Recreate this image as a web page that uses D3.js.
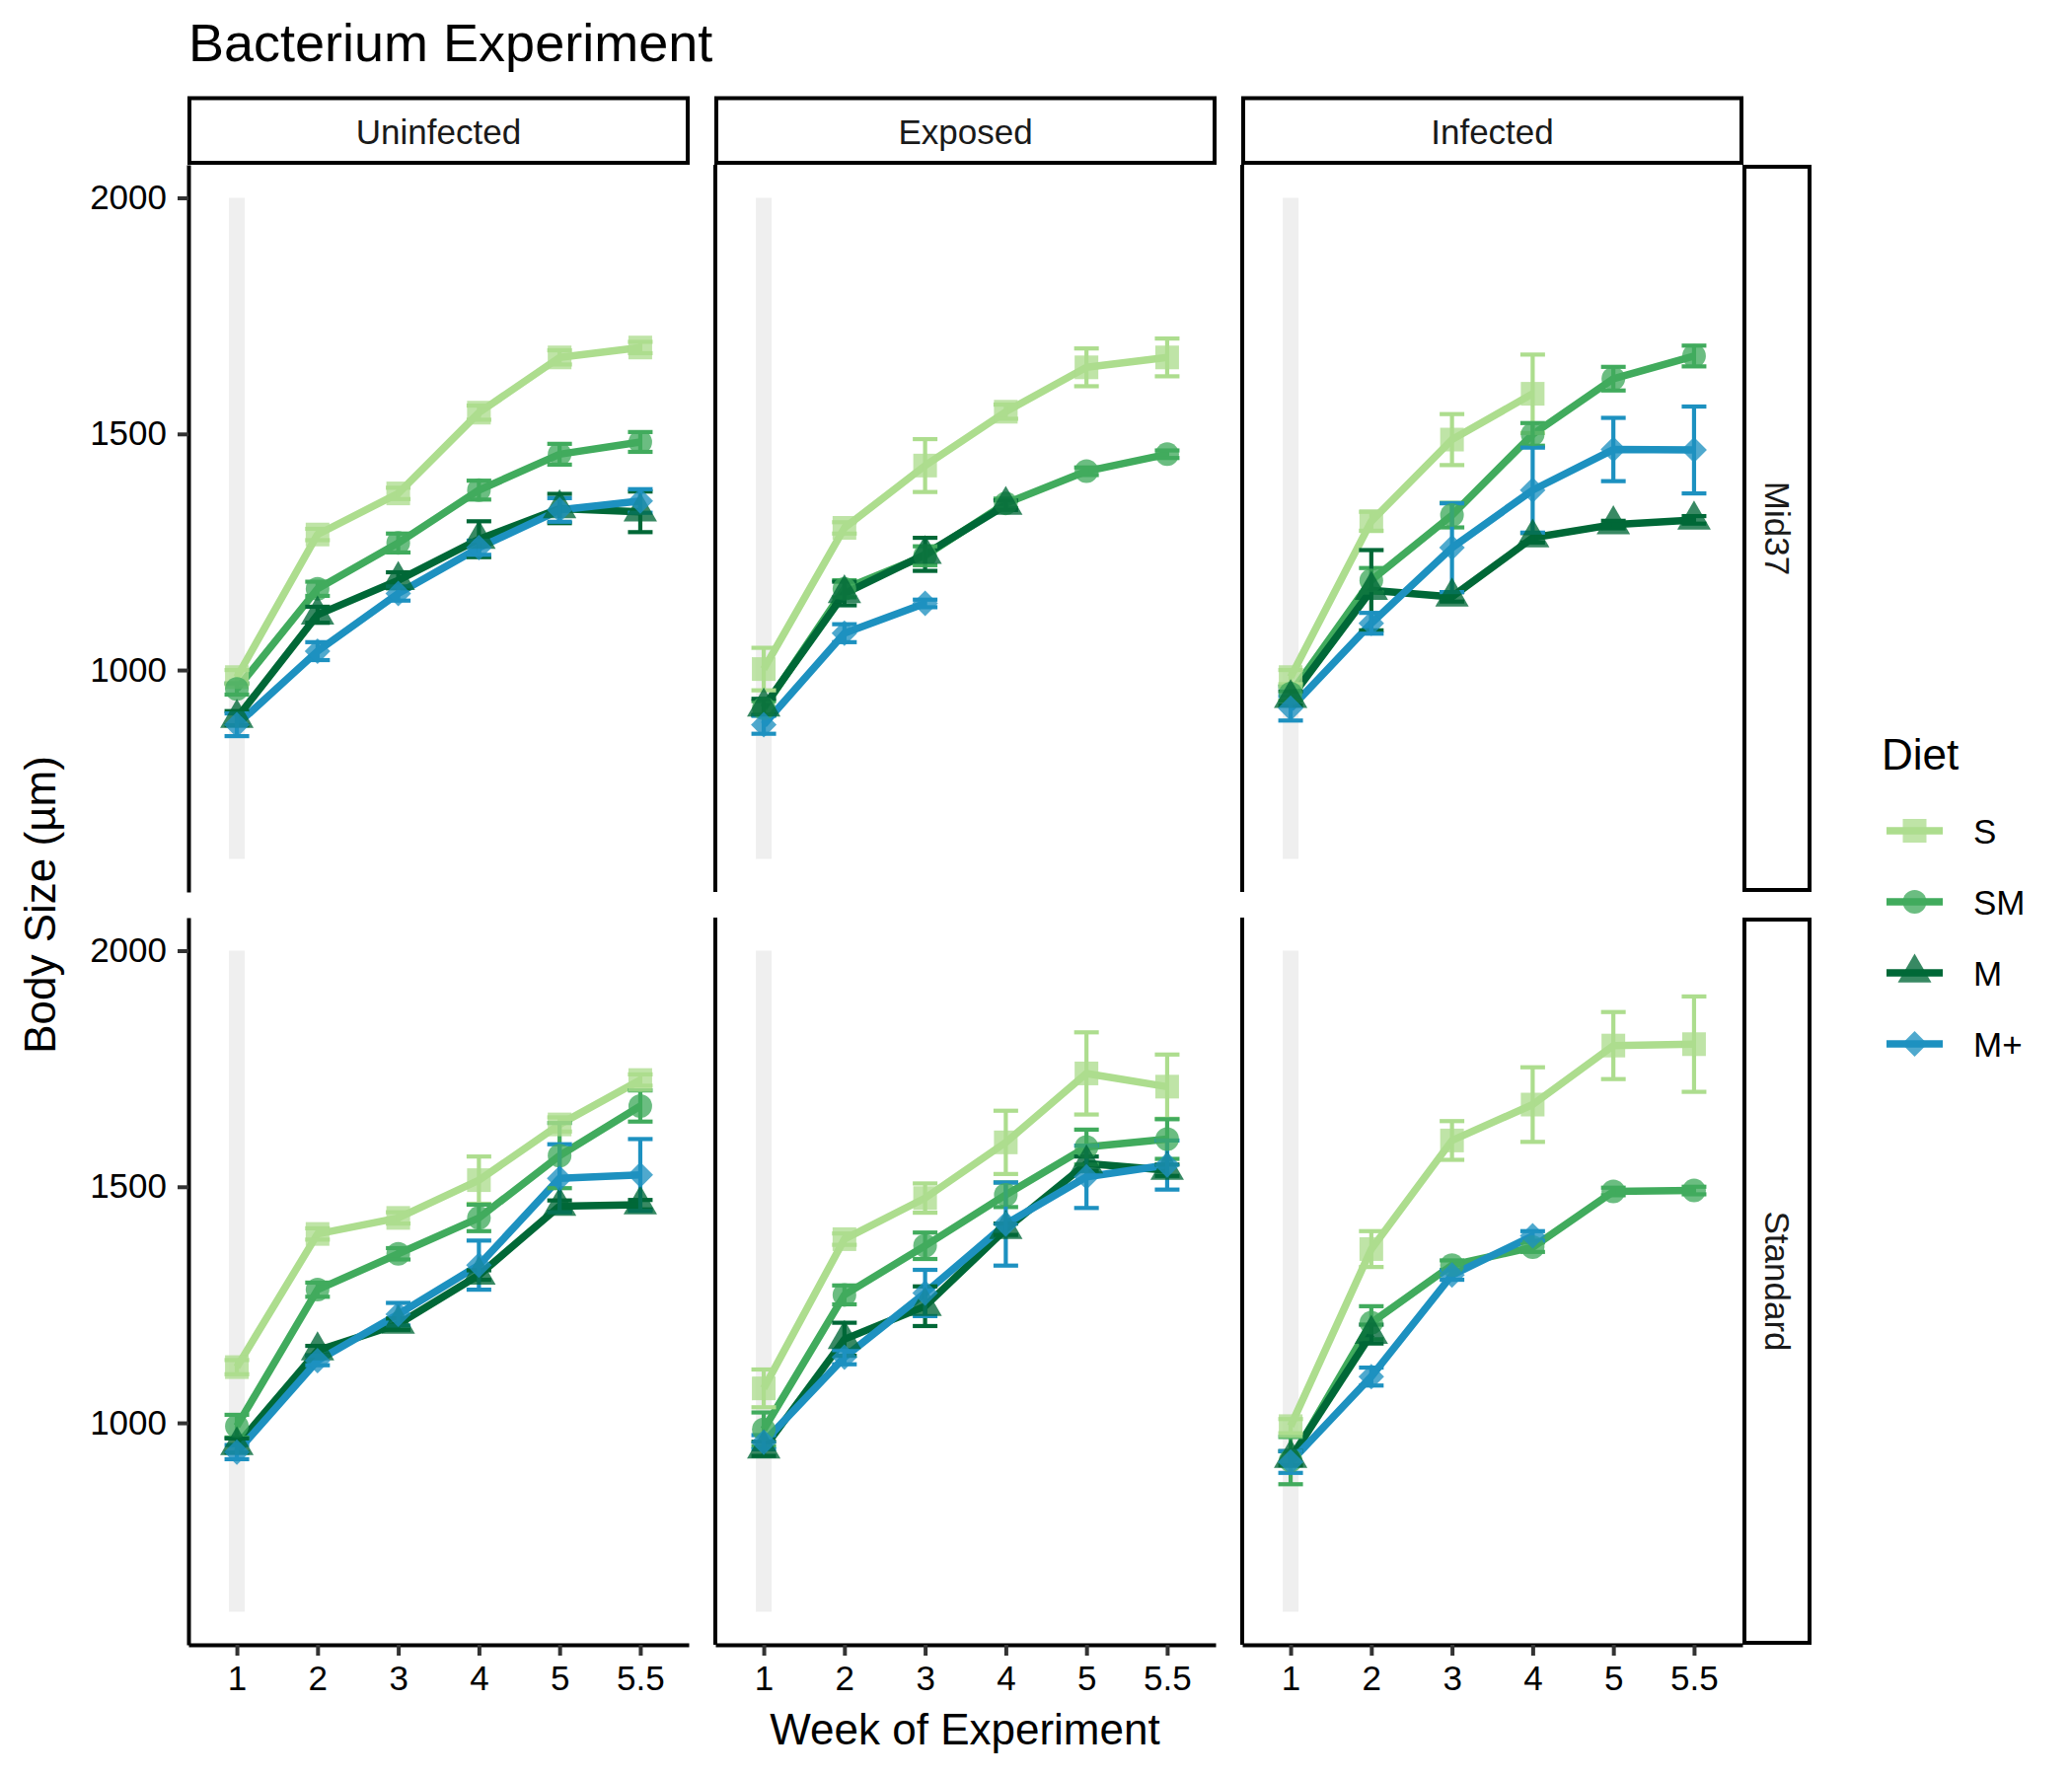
<!DOCTYPE html>
<html>
<head>
<meta charset="utf-8">
<script src="https://cdn.jsdelivr.net/npm/d3@7"></script>
<style>
  html, body { margin: 0; padding: 0; background: #ffffff; }
  svg text { font-family: "Liberation Sans", Arial, Helvetica, sans-serif; }
</style>
</head>
<body>
<svg id="chart" width="2100" height="1800"></svg>
<script>
// ---------------- DATA ----------------
const weeks = ["1", "2", "3", "4", "5", "5.5"];
const diets = ["S", "SM", "M", "M+"];
const treatments = ["Uninfected", "Exposed", "Infected"];
const strains = ["Mid37", "Standard"];
const yTicks = [1000, 1500, 2000];

// mean body size per diet (rows: S, SM, M, M+), per week
const mid37Uninfected = [
  [985, 1287, 1374, 1545, 1662, 1683],
  [960, 1172, 1269, 1381, 1457, 1483],
  [898, 1117, 1190, 1277, 1342, 1335],
  [884, 1040, 1162, 1259, 1339, 1358]
];
const mid37UninfectedErr = [
  [15, 12, 12, 15, 15, 12],
  [12, 15, 20, 20, 22, 21],
  [15, 17, 17, 38, 31, 43],
  [24, 19, 15, 15, 25, 25]
];
const mid37Exposed = [
  [1002, 1301, 1433, 1547, 1641, 1662],
  [919, 1172, 1242, 1353, 1421, 1457],
  [922, 1162, 1245, 1349, null, null],
  [884, 1078, 1141, null, null, null]
];
const mid37ExposedErr = [
  [45, 12, 56, 15, 40, 40],
  [15, 18, 20, 10, 8, 8],
  [17, 25, 35, 10, null, null],
  [19, 19, 8, null, null, null]
];
const mid37Infected = [
  [985, 1315, 1488, 1585, null, null],
  [950, 1190, 1328, 1499, 1617, 1665],
  [940, 1169, 1155, 1280, 1308, 1318],
  [919, 1099, 1259, 1381, 1467, 1466]
];
const mid37InfectedErr = [
  [15, 20, 54, 83, null, null],
  [15, 26, 26, 24, 25, 22],
  [15, 85, 10, 10, 8, 8],
  [26, 22, 94, 90, 67, 92]
];
const standardUninfected = [
  [1118, 1400, 1434, 1514, 1632, 1726],
  [993, 1282, 1358, 1434, 1566, 1671],
  [952, 1153, 1209, 1313, 1459, 1462],
  [938, 1132, 1230, 1334, 1518, 1525]
];
const standardUninfectedErr = [
  [15, 12, 12, 50, 15, 12],
  [24, 15, 12, 28, 69, 33],
  [15, 10, 12, 10, 12, 10],
  [15, 10, 24, 52, 72, 76]
];
const standardExposed = [
  [1073, 1389, 1476, 1594, 1740, 1712],
  [986, 1271, 1375, 1483, 1584, 1601],
  [945, 1177, 1247, 1410, 1549, 1535],
  [959, 1139, 1275, 1421, 1521, 1546]
];
const standardExposedErr = [
  [40, 12, 31, 67, 87, 68],
  [36, 20, 28, 26, 37, 42],
  [15, 35, 42, 12, 15, 12],
  [15, 15, 49, 88, 66, 52]
];
const standardInfected = [
  [993, 1368, 1598, 1674, 1799, 1802],
  [920, 1212, 1334, 1372, 1490, 1492],
  [925, 1188, null, null, null, null],
  [917, 1098, 1313, 1396, null, null]
];
const standardInfectedErr = [
  [15, 38, 41, 79, 71, 101],
  [50, 35, 10, 10, 8, 8],
  [15, 20, null, null, null, null],
  [23, 19, 10, 10, null, null]
];

const panelMeans = [
  [mid37Uninfected, mid37Exposed, mid37Infected],
  [standardUninfected, standardExposed, standardInfected]
];
const panelErrs = [
  [mid37UninfectedErr, mid37ExposedErr, mid37InfectedErr],
  [standardUninfectedErr, standardExposedErr, standardInfectedErr]
];

// ---------------- STYLE / LAYOUT ----------------
const colors = {"S": "#addd8e", "SM": "#41ab5d", "M": "#006837", "M+": "#1d91c0"};
const colX0 = [191, 725, 1259];
const rowY0 = [167, 930];
const panelW = 507, panelH = 737;
const font = '"Liberation Sans", Arial, Helvetica, sans-serif';

const svg = d3.select("#chart");
svg.append("rect").attr("width", 2100).attr("height", 1800).attr("fill", "#ffffff");

function symbolPath(diet, cx, cy) {
  if (diet === "S") {
    const h = 12;
    return `M${cx - h},${cy - h}H${cx + h}V${cy + h}H${cx - h}Z`;
  } else if (diet === "M") {
    const r = 19.6, xc = 17, yc = 9.8;
    return `M${cx},${cy - r}L${cx + xc},${cy + yc}L${cx - xc},${cy + yc}Z`;
  } else {
    const h = 13;
    return `M${cx},${cy - h}L${cx + h},${cy}L${cx},${cy + h}L${cx - h},${cy}Z`;
  }
}
function drawPoint(g, diet, cx, cy) {
  if (diet === "SM") {
    g.append("path")
      .attr("d", d3.symbol().type(d3.symbolCircle).size(Math.PI * 12 * 12)())
      .attr("transform", `translate(${cx},${cy})`)
      .attr("fill", colors[diet]).attr("fill-opacity", 0.78);
  } else {
    g.append("path")
      .attr("d", symbolPath(diet, cx, cy))
      .attr("fill", colors[diet]).attr("fill-opacity", 0.78);
  }
}

// ---------------- PANELS ----------------
strains.forEach((strain, r) => {
  treatments.forEach((trt, c) => {
    const x0 = colX0[c], y0 = rowY0[r];
    const x = d3.scalePoint().domain(weeks).range([x0, x0 + panelW]).padding(0.6);
    const y = d3.scaleLinear().domain([530, 2070]).range([y0 + panelH, y0]);
    const g = svg.append("g");

    // grey reference band at week 1
    g.append("line")
      .attr("x1", x("1")).attr("x2", x("1"))
      .attr("y1", y(600)).attr("y2", y(2000))
      .attr("stroke", "#efefef").attr("stroke-width", 16);

    const means = panelMeans[r][c];
    const errs = panelErrs[r][c];

    // lines
    diets.forEach((diet, k) => {
      const pts = weeks.map((w, i) => ({w, v: means[k][i]}));
      const line = d3.line()
        .defined(d => d.v != null)
        .x(d => x(d.w)).y(d => y(d.v));
      g.append("path")
        .attr("d", line(pts))
        .attr("fill", "none")
        .attr("stroke", colors[diet])
        .attr("stroke-width", 7.5)
        .attr("stroke-linejoin", "round");
    });
    // error bars
    diets.forEach((diet, k) => {
      weeks.forEach((w, i) => {
        const m = means[k][i], e = errs[k][i];
        if (m == null || e == null) return;
        const cx = x(w);
        const eg = g.append("g").attr("stroke", colors[diet]).attr("stroke-width", 4.2);
        eg.append("line").attr("x1", cx).attr("x2", cx).attr("y1", y(m - e)).attr("y2", y(m + e));
        eg.append("line").attr("x1", cx - 12.5).attr("x2", cx + 12.5).attr("y1", y(m - e)).attr("y2", y(m - e));
        eg.append("line").attr("x1", cx - 12.5).attr("x2", cx + 12.5).attr("y1", y(m + e)).attr("y2", y(m + e));
      });
    });
    // points
    diets.forEach((diet, k) => {
      weeks.forEach((w, i) => {
        const m = means[k][i];
        if (m == null) return;
        drawPoint(g, diet, x(w), y(m));
      });
    });

    // left axis
    if (c === 0) {
      const ax = g.append("g").attr("transform", `translate(${x0},0)`)
        .call(d3.axisLeft(y).tickValues(yTicks).tickFormat(d3.format("d"))
          .tickSize(11).tickSizeOuter(0).tickPadding(11));
      ax.select(".domain").attr("stroke", "#000").attr("stroke-width", 4);
      ax.selectAll(".tick line").attr("stroke", "#333333").attr("stroke-width", 4);
      ax.selectAll(".tick text").attr("font-size", 35).attr("fill", "#000").attr("font-family", font);
    } else {
      g.append("line").attr("x1", x0).attr("x2", x0).attr("y1", y0).attr("y2", y0 + panelH)
        .attr("stroke", "#000").attr("stroke-width", 4);
    }
    // bottom axis
    if (r === 1) {
      const bx = g.append("g").attr("transform", `translate(0,${y0 + panelH})`)
        .call(d3.axisBottom(x).tickSize(11).tickSizeOuter(0).tickPadding(10));
      bx.select(".domain").attr("stroke", "#000").attr("stroke-width", 4);
      bx.selectAll(".tick line").attr("stroke", "#333333").attr("stroke-width", 4);
      bx.selectAll(".tick text").attr("font-size", 35).attr("fill", "#000").attr("font-family", font);
    }

    // top strips
    if (r === 0) {
      svg.append("rect")
        .attr("x", x0 + 1).attr("y", 99.5).attr("width", panelW - 2).attr("height", 65.5)
        .attr("fill", "#fff").attr("stroke", "#000").attr("stroke-width", 4);
      svg.append("text")
        .attr("x", x0 + panelW / 2).attr("y", 133)
        .attr("text-anchor", "middle").attr("dominant-baseline", "central")
        .attr("font-size", 35).attr("fill", "#1a1a1a")
        .text(trt);
    }
    // right strips
    if (c === 2) {
      svg.append("rect")
        .attr("x", 1768).attr("y", y0 + 2).attr("width", 66).attr("height", panelH - 4)
        .attr("fill", "#fff").attr("stroke", "#000").attr("stroke-width", 4);
      svg.append("text")
        .attr("transform", `translate(1801,${y0 + panelH / 2}) rotate(90)`)
        .attr("text-anchor", "middle").attr("dominant-baseline", "central")
        .attr("font-size", 35).attr("fill", "#1a1a1a")
        .text(strain);
    }
  });
});

// ---------------- TITLES ----------------
svg.append("text").attr("x", 191).attr("y", 62)
  .attr("font-size", 54).attr("fill", "#000").text("Bacterium Experiment");
svg.append("text").attr("x", 978).attr("y", 1768)
  .attr("text-anchor", "middle").attr("font-size", 44).attr("fill", "#000")
  .text("Week of Experiment");
svg.append("text").attr("transform", "translate(56,917) rotate(-90)")
  .attr("text-anchor", "middle").attr("font-size", 44).attr("fill", "#000")
  .text("Body Size (µm)");

// ---------------- LEGEND ----------------
const lg = svg.append("g");
lg.append("text").attr("x", 1907).attr("y", 780).attr("font-size", 44).attr("fill", "#000").text("Diet");
const keyY = d3.scalePoint().domain(diets).range([842, 1058]);
diets.forEach(diet => {
  const cy = keyY(diet);
  lg.append("line").attr("x1", 1912).attr("x2", 1969).attr("y1", cy).attr("y2", cy)
    .attr("stroke", colors[diet]).attr("stroke-width", 7.5);
  drawPoint(lg, diet, 1940.5, cy);
  lg.append("text").attr("x", 2000).attr("y", cy).attr("dominant-baseline", "central")
    .attr("font-size", 35).attr("fill", "#000").text(diet);
});
</script>
</body>
</html>
